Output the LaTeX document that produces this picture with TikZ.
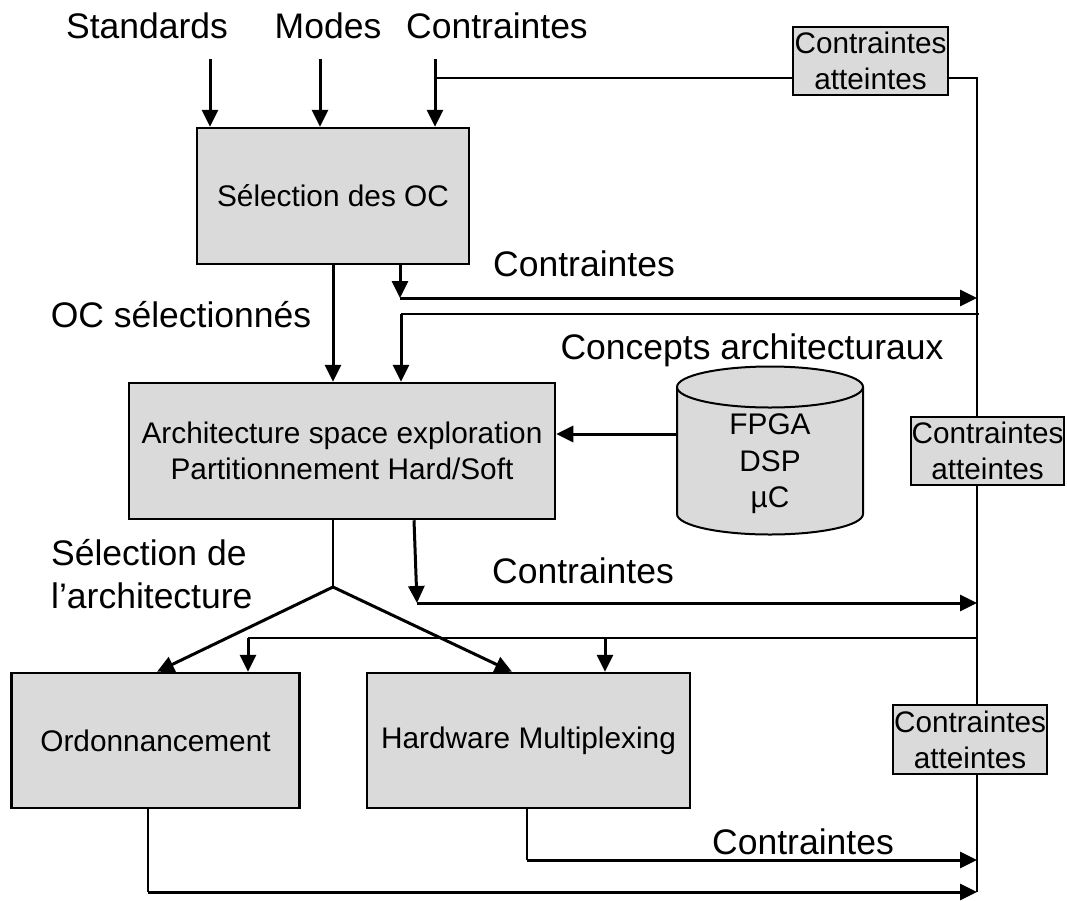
\documentclass[tikz,border=0pt]{standalone}
\usepackage{fontspec}
\setmainfont{Liberation Sans}
\usetikzlibrary{arrows.meta}
\definecolor{boxgray}{HTML}{DADADA}
\begin{document}
\begin{tikzpicture}[x=1pt,y=-1pt,
  big/.style={font=\fontsize{35.5}{43}\selectfont, inner sep=0pt},
  boxtext/.style={font=\fontsize{29.8}{36.5}\selectfont},
  box/.style={draw, line width=2.5pt, fill=boxgray, inner sep=0pt, align=center, boxtext},
  cabox/.style={draw, line width=2pt, fill=boxgray, inner sep=0pt, align=center, font=\fontsize{29.7}{36}\selectfont},
  arr/.style={line width=3pt, -{Triangle[length=17pt,width=16pt]}},
  thn/.style={line width=2pt},
]
\useasboundingbox (0,0) rectangle (1067,900);

% coordinates
\coordinate (s0) at (210,59);
\coordinate (m0) at (320,59);
\coordinate (c0) at (435,59);
\coordinate (c1) at (435,78);
\coordinate (bt) at (977,78);
\coordinate (bb) at (977,892);

% boxes
\node[box, minimum width=272pt, minimum height=136pt] (b1) at (333,196) {Sélection des OC};
\node[box, minimum width=426pt, minimum height=136pt] (b2) at (342,451) {Architecture space exploration\\Partitionnement Hard/Soft};
\node[box, minimum width=288pt, minimum height=135pt] (ord) at (155.5,740.5) {Ordonnancement};
\node[box, minimum width=323pt, minimum height=135pt] (hw) at (528.5,740.5) {Hardware Multiplexing};
\node[cabox, minimum width=155pt, minimum height=68pt] (ca1) at (870.5,61) {Contraintes\\atteintes};
\node[cabox, minimum width=153pt, minimum height=68pt] (ca2) at (987.5,451) {Contraintes\\atteintes};
\node[cabox, minimum width=154pt, minimum height=69pt] (ca3) at (970,739.5) {Contraintes\\atteintes};

% cylinder
\fill[boxgray] (677,387) -- (677,514) arc[start angle=180,end angle=360,x radius=93pt,y radius=20.5pt] -- (863,387) -- cycle;
\draw[line width=2pt] (677,387) -- (677,514) arc[start angle=180,end angle=360,x radius=93pt,y radius=20.5pt] -- (863,387);
\draw[line width=2pt, fill=boxgray] (770,387) ellipse [x radius=93pt, y radius=20.5pt];
\node[boxtext, align=center, inner sep=0pt] (db) at (770,464) {FPGA\\DSP\\µC};
\coordinate (dbw) at (677,434);
\draw[arr] (dbw) -- (b2.east |- dbw);

% labels
\node[big, anchor=base] (lstd) at (147,38) {Standards};
\node[big, anchor=base] (lmod) at (328,38) {Modes};
\node[big, anchor=base] (lcon) at (497,38) {Contraintes};
\node[big, anchor=base] (lc2) at (584,276) {Contraintes};
\node[big, anchor=base] (loc) at (181,327) {OC sélectionnés};
\node[big, anchor=base] (lca) at (752,359) {Concepts architecturaux};
\node[big, anchor=base] (lc3) at (583,583) {Contraintes};
\node[big, anchor=base] (lc4) at (803,854) {Contraintes};
\node[big, anchor=base west] (lsel1) at (51,565) {Sélection de};
\node[big, anchor=base west] (lsel2) at (51,608) {l’architecture};

% inputs
\draw[arr] (s0) -- (s0 |- b1.north);
\draw[arr] (m0) -- (m0 |- b1.north);
\draw[arr] (c0) -- (c0 |- b1.north);
\draw[thn] (c1) -- (ca1.west |- c1);
\draw[thn] (ca1.east |- c1) -- (bt) -- (ca2.north -| bt);
\draw[thn] (ca2.south -| bt) -- (ca3.north -| bt);
\draw[thn] (ca3.south -| bt) -- (bb);

% box1 outputs
\draw[arr] (b1.south) -- (b1.south |- b2.north);
\coordinate (k1) at (400,298);
\draw[arr] (b1.south -| k1) -- (k1);
\draw[arr] (k1) -- (k1 -| bt);
\coordinate (f1) at (401,314);
\coordinate (f1r) at (979,314);
\draw[thn] (f1r) -- (f1);
\draw[arr] (f1) -- (f1 |- b2.north);

% box2 outputs
\coordinate (apex) at (333,587);
\coordinate (a1) at (157,673);
\coordinate (a2) at (512,673);
\draw[thn] (b2.south -| apex) -- (apex);
\draw[arr] (apex) -- (ord.north -| a1);
\draw[arr] (apex) -- (hw.north -| a2);
\coordinate (k2s) at (414,519);
\coordinate (k2) at (417,603);
\draw[arr] (b2.south -| k2s) -- (k2);
\draw[arr] (k2) -- (k2 -| bt);
\coordinate (f2) at (248,638);
\coordinate (f3) at (605,638);
\draw[thn] (f2 -| bt) -- (f2);
\draw[arr] (f2) -- (f2 |- ord.north);
\draw[arr] (f3) -- (f3 |- hw.north);

% bottom outputs
\coordinate (h1) at (527,860);
\draw[thn] (hw.south -| h1) -- (h1);
\draw[arr] (h1) -- (h1 -| bt);
\coordinate (o1) at (148,892);
\draw[thn] (ord.south -| o1) -- (o1);
\draw[arr] (o1) -- (o1 -| bt);
\end{tikzpicture}
\end{document}
